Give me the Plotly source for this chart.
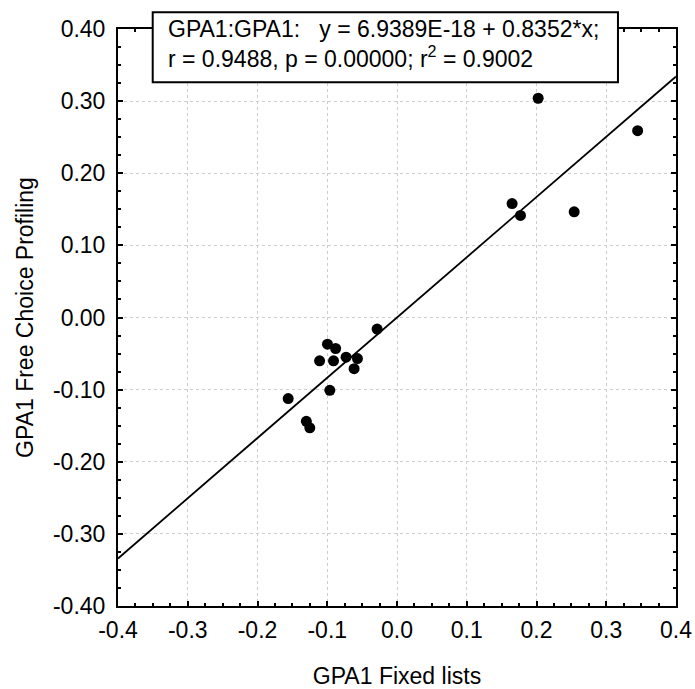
import plotly.graph_objects as go

# Data
x_fixed = [0.2024, 0.345, 0.165, 0.177, 0.254, -0.0285, -0.0997, -0.088, -0.111,
           -0.091, -0.073, -0.0567, -0.0615, -0.0963, -0.156, -0.130, -0.125]
y_fcp = [0.304, 0.259, 0.158, 0.1415, 0.1465, -0.016, -0.037, -0.043, -0.060,
         -0.060, -0.055, -0.057, -0.071, -0.1009, -0.1124, -0.144, -0.153]

intercept = 6.9389e-18
slope = 0.8352
line_x = [-0.4, 0.4]
line_y = [intercept + slope * v for v in line_x]

x_tickvals = [-0.4, -0.3, -0.2, -0.1, 0.0, 0.1, 0.2, 0.3, 0.4]
x_ticktext = ["-0.4", "-0.3", "-0.2", "-0.1", "0.0", "0.1", "0.2", "0.3", "0.4"]
y_tickvals = [-0.4, -0.3, -0.2, -0.1, 0.0, 0.1, 0.2, 0.3, 0.4]
y_ticktext = ["-0.40", "-0.30", "-0.20", "-0.10", "0.00", "0.10", "0.20", "0.30", "0.40"]

x_title = "GPA1 Fixed lists"
y_title = "GPA1 Free Choice Profiling"
line1 = "GPA1:GPA1:\u00a0\u00a0\u00a0y = 6.9389E-18 + 0.8352*x;"
line2 = "r = 0.9488, p = 0.00000; r<sup>2</sup> = 0.9002"

FONT = "Liberation Sans, Arial, sans-serif"
FS = 23

fig = go.Figure()
fig.add_trace(go.Scatter(x=line_x, y=line_y, mode="lines",
                         line=dict(color="black", width=1.8),
                         showlegend=False, hoverinfo="skip"))
fig.add_trace(go.Scatter(x=x_fixed, y=y_fcp, mode="markers",
                         marker=dict(color="black", size=11),
                         showlegend=False))

axis_common = dict(
    showline=True, linecolor="black", linewidth=2, mirror="allticks",
    ticks="inside", ticklen=5, tickwidth=2, tickcolor="black",
    showgrid=True, gridcolor="#cccccc", griddash="dot", gridwidth=1,
    zeroline=False, automargin=False, ticklabeloverflow="allow",
    tickfont=dict(family=FONT, size=FS, color="black"),
    minor=dict(ticks="inside", ticklen=3, tickwidth=2, tickcolor="black",
               dtick=0.025, showgrid=False),
)

fig.update_xaxes(range=[-0.4, 0.4], tickvals=x_tickvals, ticktext=x_ticktext,
                 ticklabelstandoff=2,
                 title=dict(text=x_title, font=dict(family=FONT, size=FS, color="black"),
                            standoff=29),
                 **axis_common)
fig.update_yaxes(range=[-0.4, 0.4], tickvals=y_tickvals, ticktext=y_ticktext,
                 ticklabelstandoff=6,
                 title=dict(text=y_title, font=dict(family=FONT, size=FS, color="black"),
                            standoff=13),
                 **axis_common)

fig.add_shape(type="rect", xref="paper", yref="paper",
              x0=0.0622, x1=0.896, y0=0.9076, y1=1.029,
              line=dict(color="black", width=2), fillcolor="white", layer="above")
fig.add_annotation(xref="paper", yref="paper", x=0.086, y=0.9745,
                   xanchor="left", yanchor="middle", align="left",
                   text=line1 + "<br>" + line2, showarrow=False,
                   font=dict(family=FONT, size=FS, color="black"))

fig.update_layout(
    width=695, height=689,
    margin=dict(l=118, r=19, t=29, b=83),
    paper_bgcolor="white", plot_bgcolor="white",
    font=dict(family=FONT, color="black"),
)

fig.write_html("out.html",
               config={"displayModeBar": False},
               post_script="document.body.style.margin='0';document.body.style.overflow='hidden';")
